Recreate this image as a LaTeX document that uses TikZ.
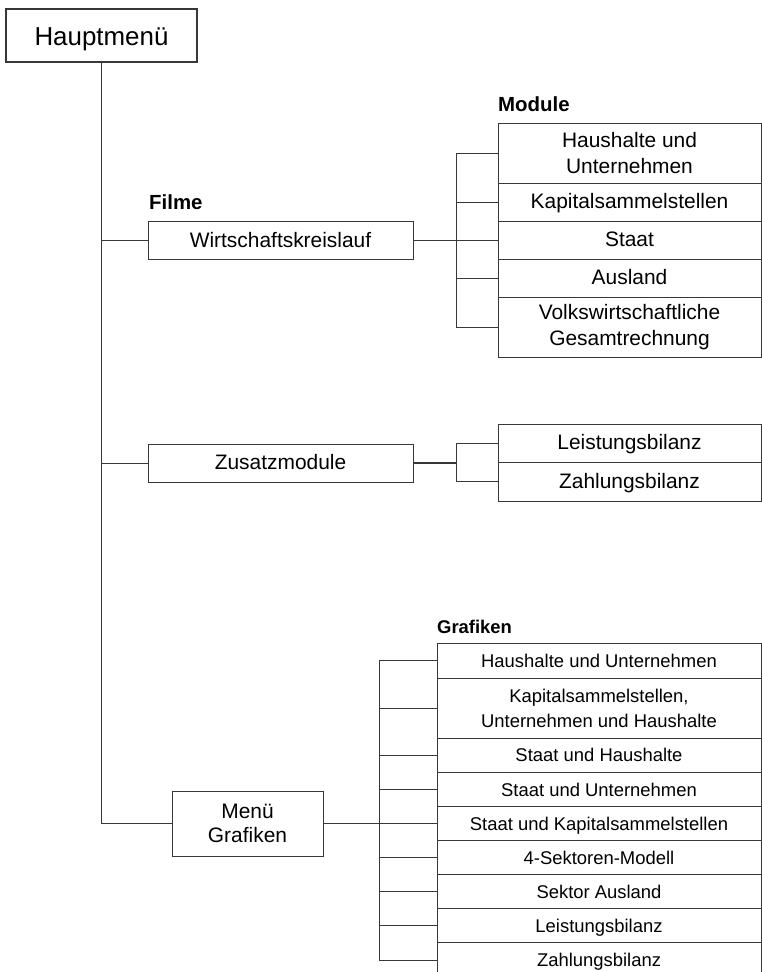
\documentclass[tikz,border=0pt]{standalone}
\usepackage{fontspec}
\setmainfont{Liberation Sans}
\definecolor{ln}{HTML}{383838}
\tikzset{
  box/.style={draw=ln, line width=.8bp, inner sep=0, outer sep=0, align=center,
    font=\fontsize{21}{26}\selectfont},
  one/.style={text height=16.4bp, text depth=2.6bp},
  small/.style={font=\fontsize{18.5}{25}\selectfont},
  smallone/.style={small, text height=15.6bp, text depth=2bp},
  tag/.style={anchor=base west, inner sep=0, font=\bfseries\fontsize{20.5}{24}\selectfont},
  link/.style={draw=ln, line width=.8bp},
  trunk/.style={draw=ln, line width=1.6bp}
}
\begin{document}
\begin{tikzpicture}[x=1bp, y=-1bp]
    \useasboundingbox (0,0) rectangle (762,972);

    \node[box, line width=1.6bp, minimum width=191bp, minimum height=53bp,
      text height=21bp, text depth=2bp, font=\fontsize{26}{30}\selectfont](haupt) at (101.5,35.5) {Hauptmenü};

    \node[tag](filmtag) at (149,209) {Filme};
    \node[box, one, minimum width=265bp, minimum height=38bp](film) at (280.5,240.5) {Wirtschaftskreislauf};
    \node[box, one, minimum width=265bp, minimum height=38bp](zusatz) at (280.5,463) {Zusatzmodule};
    \node[box, minimum width=151bp, minimum height=65bp, font=\fontsize{21}{24}\selectfont](grafmenu) at (247.5,823.5) {Menü\\Grafiken};

    \node[tag](modtag) at (498,111.7) {Module};
    \node[box, minimum width=263bp, minimum height=60bp](m1) at (629.5,153) {Haushalte und\\Unternehmen};
    \node[box, one, minimum width=263bp, minimum height=38bp](m2) at (629.5,202) {Kapitalsammelstellen};
    \node[box, one, minimum width=263bp, minimum height=38bp](m3) at (629.5,240) {Staat};
    \node[box, one, minimum width=263bp, minimum height=38bp](m4) at (629.5,278) {Ausland};
    \node[box, minimum width=263bp, minimum height=60bp](m5) at (629.5,327) {Volkswirtschaftliche\\Gesamtrechnung};

    \node[box, one, minimum width=263bp, minimum height=38bp](z1) at (629.5,443) {Leistungsbilanz};
    \node[box, one, minimum width=263bp, minimum height=39bp](z2) at (629.5,481.5) {Zahlungsbilanz};

    \node[tag, font=\bfseries\fontsize{18.5}{22}\selectfont](graftag) at (437,633.3) {Grafiken};
    \node[box, smallone, minimum width=324bp, minimum height=35bp](g1) at (599,660.5) {Haushalte und Unternehmen};
    \node[box, small, minimum width=324bp, minimum height=60bp](g2) at (599,708) {Kapitalsammelstellen,\\Unternehmen und Haushalte};
    \node[box, smallone, minimum width=324bp, minimum height=34.1bp](g3) at (599,755.1) {Staat und Haushalte};
    \node[box, smallone, minimum width=324bp, minimum height=34.1bp](g4) at (599,789.2) {Staat und Unternehmen};
    \node[box, smallone, minimum width=324bp, minimum height=34.1bp](g5) at (599,823.4) {Staat und Kapitalsammelstellen};
    \node[box, smallone, minimum width=324bp, minimum height=34.1bp](g6) at (599,857.5) {4-Sektoren-Modell};
    \node[box, smallone, minimum width=324bp, minimum height=34.1bp](g7) at (599,891.6) {Sektor Ausland};
    \node[box, smallone, minimum width=324bp, minimum height=34.1bp](g8) at (599,925.8) {Leistungsbilanz};
    \node[box, smallone, minimum width=324bp, minimum height=34.1bp](g9) at (599,959.9) {Zahlungsbilanz};

    \coordinate(bf) at (456,240.5);
    \coordinate(bz) at (456,463);
    \coordinate(bg) at (379,823.5);

    \draw[link](haupt.south) |- (grafmenu.west);
    \draw[link](haupt.south |- film.west)--(film.west);
    \draw[link](haupt.south |- zusatz.west)--(zusatz.west);

    \draw[trunk](film.east)--(bf);
    \draw[link](bf |- m1.west)--(bf |- m5.west);
    \foreach \i in {1,...,5} \draw[link](bf |- m\i.west)--(m\i.west);

    \draw[trunk](zusatz.east)--(bz);
    \draw[link](bz |- z1.west)--(bz |- z2.west);
    \foreach \i in {1,2} \draw[link](bz |- z\i.west)--(z\i.west);

    \draw[trunk](grafmenu.east)--(bg);
    \draw[link](bg |- g1.west)--(bg |- g9.west);
    \foreach \i in {1,...,9} \draw[link](bg |- g\i.west)--(g\i.west);
\end{tikzpicture}
\end{document}
